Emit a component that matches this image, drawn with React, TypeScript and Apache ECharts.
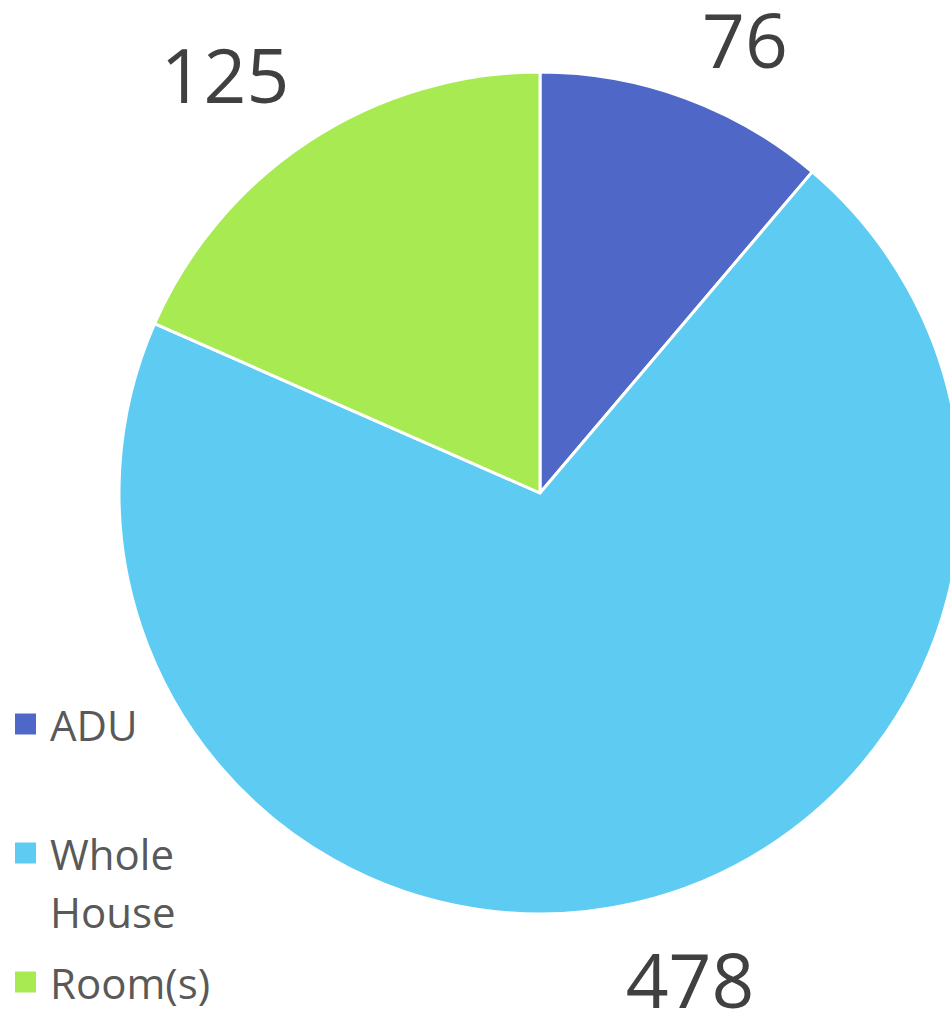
import React, { useEffect, useRef } from "react";
import * as echarts from "echarts";

const categories = ["ADU", "Whole House", "Room(s)"];
const values = [76, 478, 125];
const colors = ["#4f68c8", "#5ecbf2", "#a8ea52"];

// label centre positions (layout, not data)
const labelPos = [
  [745, 39],
  [690, 979],
  [225, 74],
];

export default function App() {
  const ref = useRef<HTMLDivElement>(null);
  useEffect(() => {
    document.body.style.margin = "0";
    const chart = echarts.init(ref.current!, null, { renderer: "svg" });
    chart.setOption({
      animation: false,
      color: colors,
      legend: {
        orient: "vertical",
        left: 13,
        top: 695,
        padding: 0,
        itemGap: 13,
        itemWidth: 23,
        itemHeight: 23,
        icon: "rect",
        data: categories,
        formatter: (name: string) =>
          name === "Whole House" ? "\nWhole\nHouse" : name,
        textStyle: {
          fontFamily: "Open Sans",
          fontSize: 42,
          lineHeight: 58,
          color: "#595959",
          padding: [0, 0, 0, 8],
        },
      },
      series: [
        {
          type: "pie",
          center: [540, 493],
          radius: 421,
          startAngle: 90,
          clockwise: true,
          itemStyle: { borderColor: "#ffffff", borderWidth: 3 },
          label: {
            show: true,
            position: "outside",
            formatter: "{c}",
            fontFamily: "Open Sans",
            fontSize: 75,
            lineHeight: 60,
            color: "#404040",
          },
          labelLine: { show: false },
          labelLayout: (params: any) => ({
            x: labelPos[params.dataIndex][0],
            y: labelPos[params.dataIndex][1],
            align: "center",
            verticalAlign: "middle",
          }),
          emphasis: { disabled: true },
          data: categories.map((c, i) => ({ name: c, value: values[i] })),
        },
      ],
    });
    return () => chart.dispose();
  }, []);
  return <div ref={ref} style={{ width: 950, height: 1013 }} />;
}
